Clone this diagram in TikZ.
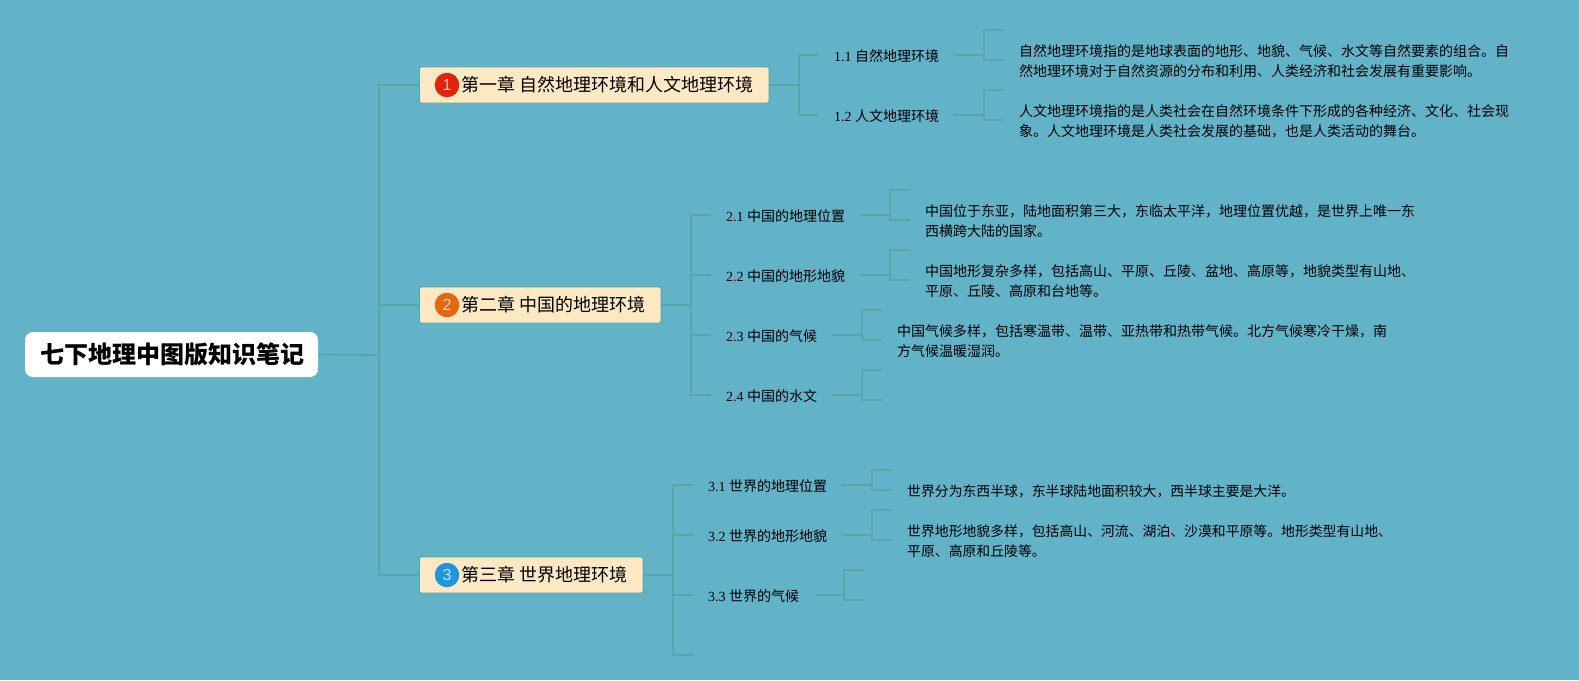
\documentclass[tikz,border=0pt]{standalone}
\usepackage{fontspec}
\setmainfont{Liberation Serif}
\newfontfamily\cjk{Noto Sans CJK SC}
\newfontfamily\digitfont{Liberation Sans}
\usetikzlibrary{positioning}
\definecolor{bgteal}{RGB}{98,178,200}
\definecolor{linkgreen}{RGB}{90,166,162}
\definecolor{chapfill}{RGB}{253,232,196}
\definecolor{chapred}{RGB}{224,36,10}
\definecolor{chaporange}{RGB}{232,101,15}
\definecolor{chapblue}{RGB}{30,150,220}
\newcommand{\chaptext}[1]{\hspace*{42pt}#1\hspace*{15.5pt}}

\begin{document}
\begin{tikzpicture}[x=1pt, y=-1pt]
    \tikzset{root/.style={rectangle, rounded corners=8pt, fill=white, minimum width=293pt,
                          minimum height=45pt, inner sep=0pt, font=\cjk\bfseries\fontsize{24}{28}\selectfont},
             chap/.style={rectangle, rounded corners=2pt, draw=linkgreen, line width=0.8pt, fill=chapfill, anchor=west,
                          minimum height=36pt, inner xsep=0pt, inner ysep=0pt, font=\cjk\fontsize{18}{20}\selectfont},
             badge/.style={circle, minimum size=24.5pt, inner sep=0pt, text=white, text opacity=0.75,
                           font=\digitfont\fontsize{16}{18}\selectfont},
             sect/.style={anchor=west, inner xsep=0pt, inner ysep=0pt, outer xsep=15pt, outer ysep=0pt,
                          text height=12pt, text depth=0pt, font=\fontsize{14}{20}\selectfont},
             desc/.style={anchor=west, align=left, inner sep=0pt, font=\cjk\fontsize{14}{20}\selectfont},
             link/.style={draw=linkgreen, line width=1.2pt},
             trunk/.style={draw=linkgreen, line width=1.8pt}}
    \path[fill=bgteal, use as bounding box] (0,0) rectangle (1579,680);

    \node[root] (main) at (171.5,354.5) {\raisebox{-1.5pt}{\hspace*{1.5pt}七下地理中图版知识笔记}};
    \coordinate (jmain) at (379,355);

    \node[chap] (c1) at (419,85) {\chaptext{第一章 自然地理环境和人文地理环境}};
    \node[chap] (c2) at (419,305) {\chaptext{第二章 中国的地理环境}};
    \node[chap] (c3) at (419,575) {\chaptext{第三章 世界地理环境}};
    \node[badge, fill=chapred] (n1) at (447,85) {1};
    \node[badge, fill=chaporange] (n2) at (447,305) {2};
    \node[badge, fill=chapblue] (n3) at (447,575) {3};

    \coordinate (j1) at (799,85);
    \coordinate (j2) at (691,305);
    \coordinate (j3) at (673,575);

    \node[sect] (s11) at (819,55) {1.1 {\cjk 自然地理环境}};
    \node[sect] (s12) at (819,115) {1.2 {\cjk 人文地理环境}};
    \node[sect] (s21) at (711,215) {2.1 {\cjk 中国的地理位置}};
    \node[sect] (s22) at (711,275) {2.2 {\cjk 中国的地形地貌}};
    \node[sect] (s23) at (711,335) {2.3 {\cjk 中国的气候}};
    \node[sect] (s24) at (711,395) {2.4 {\cjk 中国的水文}};
    \node[sect] (s31) at (693,485) {3.1 {\cjk 世界的地理位置}};
    \node[sect] (s32) at (693,535) {3.2 {\cjk 世界的地形地貌}};
    \node[sect] (s33) at (693,595) {3.3 {\cjk 世界的气候}};
    \coordinate (s34) at (693,655);

    \node[desc] (t11) at (1019,61) {自然地理环境指的是地球表面的地形、地貌、气候、水文等自然要素的组合。自\\然地理环境对于自然资源的分布和利用、人类经济和社会发展有重要影响。};
    \node[desc] (t12) at (1019,121) {人文地理环境指的是人类社会在自然环境条件下形成的各种经济、文化、社会现\\象。人文地理环境是人类社会发展的基础，也是人类活动的舞台。};
    \node[desc] (t21) at (925,221) {中国位于东亚，陆地面积第三大，东临太平洋，地理位置优越，是世界上唯一东\\西横跨大陆的国家。};
    \node[desc] (t22) at (925,281) {中国地形复杂多样，包括高山、平原、丘陵、盆地、高原等，地貌类型有山地、\\平原、丘陵、高原和台地等。};
    \node[desc] (t23) at (897,341) {中国气候多样，包括寒温带、温带、亚热带和热带气候。北方气候寒冷干燥，南\\方气候温暖湿润。};
    \node[desc, font=\cjk\fontsize{13.85}{20}\selectfont] (t31) at (907,491) {世界分为东西半球，东半球陆地面积较大，西半球主要是大洋。};
    \node[desc, font=\cjk\fontsize{13.85}{20}\selectfont] (t32) at (907,541) {世界地形地貌多样，包括高山、河流、湖泊、沙漠和平原等。地形类型有山地、\\平原、高原和丘陵等。};

    \draw[trunk] (main.east) -- (jmain);
    \foreach \c in {c1, c2, c3}
      \draw[link] (jmain) |- (\c.west);
    \foreach \c/\j in {c1/j1, c2/j2, c3/j3}
      \draw[trunk] (\c.east) -- (\j);
    \foreach \j/\s in {j1/s11, j1/s12, j2/s21, j2/s22, j2/s23, j2/s24, j3/s31, j3/s32, j3/s33}
      \draw[link] (\j) |- (\s.west);
    \draw[link] (j3) |- (s34);

    \foreach \s/\x/\y/\u in {s11/984/55/30, s12/984/115/90, s21/890/215/190, s22/890/275/250,
                             s23/862/335/310, s24/862/395/370, s31/872/485/470, s32/872/535/510,
                             s33/844/595/570} {
      \coordinate (b\s) at (\x,\y);
      \coordinate (u\s) at (\x+20,\u);
      \coordinate (d\s) at (\x+20,\y+5);
      \draw[trunk] (\s.east) -- (b\s);
      \draw[link] (b\s) |- (u\s);
      \draw[link] (b\s) |- (d\s);
    }
\end{tikzpicture}
\end{document}
